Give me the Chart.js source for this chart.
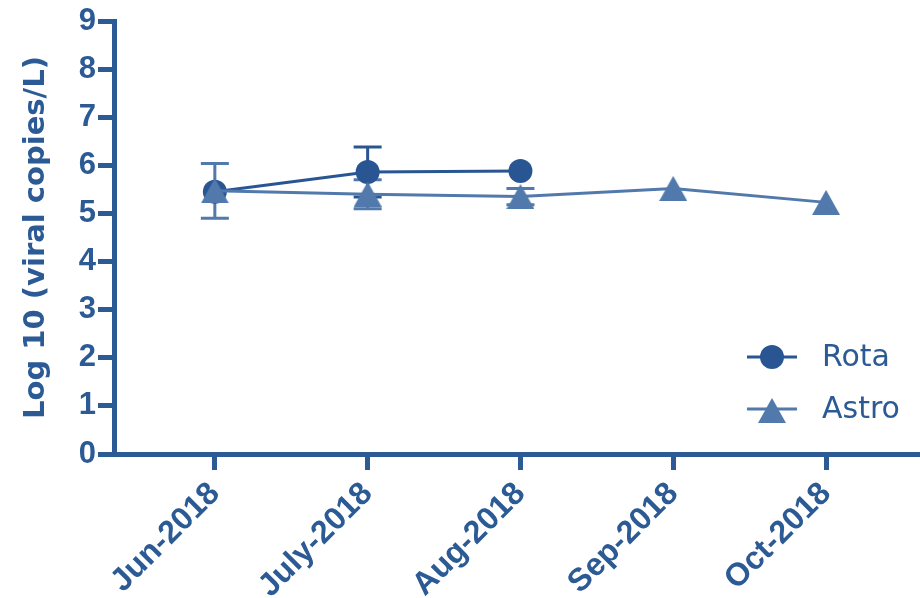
<!DOCTYPE html>
<html>
<head>
<meta charset="utf-8">
<script src="https://cdn.jsdelivr.net/npm/chart.js@4.4.1/dist/chart.umd.min.js"></script>
<style>
  html, body { margin: 0; padding: 0; background: #fff; overflow: hidden; }
  #wrap { width: 920px; height: 598px; }
  canvas { display: block; }
</style>
</head>
<body>
<div id="wrap"><canvas id="viralChart"></canvas></div>
<script>
// --- Monthly viral load (log10 copies/L), mean and error ---
const months = ["Jun-2018", "July-2018", "Aug-2018", "Sep-2018", "Oct-2018"];
const rotaMean = [5.45, 5.86, 5.88, null, null];
const rotaErr = [0, 0.52, 0, null, null];
const astroMean = [5.47, 5.40, 5.35, 5.52, 5.23];
const astroErr = [0.57, 0.30, 0.17, 0, 0];
const seriesNames = ["Rota", "Astro"];

const axisColor = "#2b5a95";
const rotaColor = "#295693";
const astroColor = "#5279ac";
const fontFamily = "'DejaVu Sans', Verdana, sans-serif";
const tickFamily = "'Liberation Sans', Arial, sans-serif";

// small triangle marker, centred on its bounding box
function makeTriangle(w, h, color) {
  const c = document.createElement("canvas");
  c.width = w;
  c.height = h;
  const g = c.getContext("2d");
  g.fillStyle = color;
  g.beginPath();
  g.moveTo(w / 2, 0);
  g.lineTo(w, h);
  g.lineTo(0, h);
  g.closePath();
  g.fill();
  return c;
}
const triangle = makeTriangle(28, 25, astroColor);

const toPoints = (arr) => arr.map((v, i) => ({ x: i, y: v }));

// error bars drawn under the markers
const errorBars = {
  id: "errorBars",
  beforeDatasetsDraw(chart) {
    const { ctx, scales: { x, y } } = chart;
    chart.data.datasets.forEach((ds) => {
      ds.errors.forEach((e, i) => {
        const v = ds.data[i].y;
        if (v == null || !e) return;
        const px = x.getPixelForValue(i);
        const top = y.getPixelForValue(v + e);
        const bot = y.getPixelForValue(v - e);
        ctx.save();
        ctx.strokeStyle = ds.borderColor;
        ctx.lineWidth = 3;
        ctx.beginPath();
        ctx.moveTo(px, top); ctx.lineTo(px, bot);
        ctx.moveTo(px - 14, top); ctx.lineTo(px + 14, top);
        ctx.moveTo(px - 14, bot); ctx.lineTo(px + 14, bot);
        ctx.stroke();
        ctx.restore();
      });
    });
  },
};

// legend in the lower right of the plot
const cornerLegend = {
  id: "cornerLegend",
  afterDraw(chart) {
    const { ctx, chartArea } = chart;
    const x0 = chartArea.right - 173;
    const rows = [chartArea.bottom - 97, chartArea.bottom - 45];
    ctx.save();
    ctx.font = "30px " + fontFamily;
    ctx.textBaseline = "middle";
    seriesNames.forEach((name, i) => {
      const cy = rows[i];
      const col = i === 0 ? rotaColor : astroColor;
      ctx.strokeStyle = col;
      ctx.lineWidth = 3;
      ctx.beginPath();
      ctx.moveTo(x0, cy);
      ctx.lineTo(x0 + 50, cy);
      ctx.stroke();
      if (i === 0) {
        ctx.fillStyle = col;
        ctx.beginPath();
        ctx.arc(x0 + 25, cy, 12, 0, Math.PI * 2);
        ctx.fill();
      } else {
        ctx.drawImage(triangle, x0 + 25 - 14, cy - 11);
      }
      ctx.fillStyle = axisColor;
      ctx.fillText(name, x0 + 75, cy + 1);
    });
    ctx.restore();
  },
};

new Chart(document.getElementById("viralChart"), {
  type: "line",
  data: {
    datasets: [
      {
        label: seriesNames[0],
        data: toPoints(rotaMean),
        errors: rotaErr,
        borderColor: rotaColor,
        backgroundColor: rotaColor,
        borderWidth: 3,
        pointRadius: 12,
        pointBorderWidth: 0,
        pointStyle: "circle",
        order: 1,
      },
      {
        label: seriesNames[1],
        data: toPoints(astroMean),
        errors: astroErr,
        borderColor: astroColor,
        backgroundColor: astroColor,
        borderWidth: 3,
        pointStyle: triangle,
        order: 0,
      },
    ],
  },
  options: {
    responsive: true,
    maintainAspectRatio: false,
    animation: false,
    layout: { autoPadding: false, padding: { top: 21, right: 0, left: 0, bottom: 0 } },
    plugins: { legend: { display: false }, tooltip: { enabled: false } },
    scales: {
      x: {
        type: "linear",
        min: -0.66,
        max: 4.615,
        afterBuildTicks: (s) => { s.ticks = months.map((m, i) => ({ value: i })); },
        afterFit: (s) => { s.height = 144; s.paddingLeft = 0; s.paddingRight = 0; },
        border: { color: axisColor, width: 5 },
        grid: { drawOnChartArea: false, drawTicks: true, tickLength: 16, tickWidth: 5, color: axisColor },
        ticks: {
          callback: (v) => months[v],
          autoSkip: false,
          maxRotation: 45,
          minRotation: 45,
          padding: 5,
          color: axisColor,
          font: { family: tickFamily, size: 32, weight: "bold" },
        },
      },
      y: {
        min: 0,
        max: 9,
        afterFit: (s) => { s.width = 114; },
        border: { color: axisColor, width: 5 },
        grid: { drawOnChartArea: false, drawTicks: true, tickLength: 16, tickWidth: 5, color: axisColor },
        ticks: {
          stepSize: 1,
          padding: 2,
          color: axisColor,
          font: { family: tickFamily, size: 31, weight: "bold" },
        },
        title: {
          display: true,
          text: "Log 10 (viral copies/L)",
          color: axisColor,
          padding: { top: 19, bottom: 0 },
          font: { family: fontFamily, size: 29, weight: "bold" },
        },
      },
    },
  },
  plugins: [errorBars, cornerLegend],
});
</script>
</body>
</html>
